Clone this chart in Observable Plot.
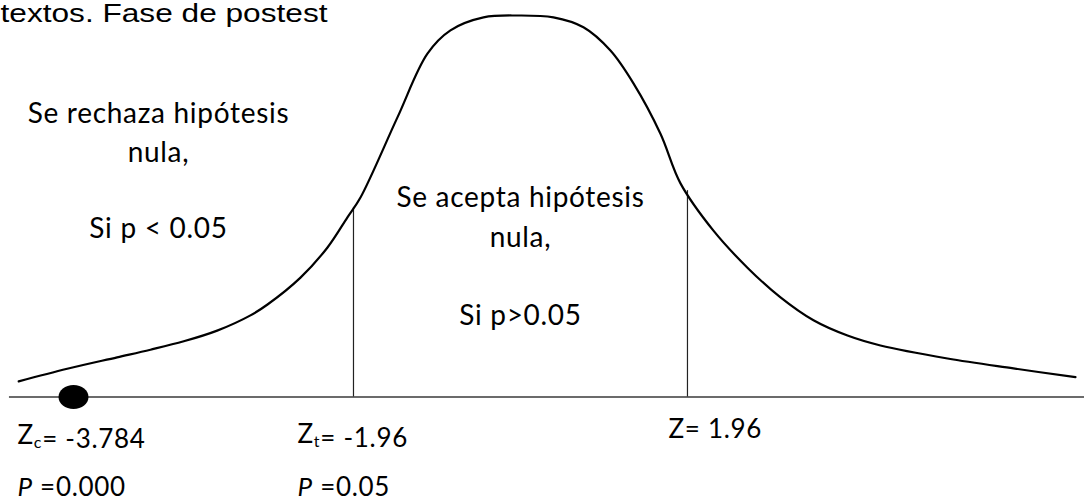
<!DOCTYPE html>
<html>
<head>
<meta charset="utf-8">
<script src="https://cdn.jsdelivr.net/npm/d3@7"></script>
<script src="https://cdn.jsdelivr.net/npm/@observablehq/plot@0.6"></script>
<style>
  html, body { margin: 0; padding: 0; background: #fff; }
  #chart svg { display: block; }
  #chart g[font-family^="Lato"] { letter-spacing: 0.7px; }
</style>
</head>
<body>
<div id="chart"></div>
<script>
// Bell curve outline: z position and relative height (peak = 1)
const curveZ = [-5.889, -5.320, -4.734, -4.343, -3.952, -3.560, -3.169, -2.969, -2.582, -2.265, -2.031, -1.878,
  -1.444, -1.092, -0.822, -0.434, -0.035, 0.387, 0.739, 1.056, 1.326, 1.643, 1.878,
  2.265, 2.664, 3.052, 3.439, 3.838, 4.225, 5.012, 5.786, 6.514];
const curveH = [0.041, 0.074, 0.104, 0.124, 0.146, 0.174, 0.214, 0.2425, 0.313, 0.392, 0.471, 0.523,
  0.733, 0.900, 0.961, 0.995, 1.000, 0.995, 0.969, 0.908, 0.822, 0.690, 0.560,
  0.436, 0.339, 0.261, 0.201, 0.161, 0.135, 0.101, 0.075, 0.052];

// Critical values (vertical lines) and the height at which they meet the curve
const criticalZ = [-1.96, 1.96];
const criticalTop = [0.497, 0.541];

// Horizontal axis extent
const axisFrom = [-5.998];
const axisTo = [6.62];

// Observed statistic marker (drawn position on the schematic)
const markerZ = [-5.246];

// Region texts
const regionText = ["Se rechaza hipótesis", "nula,", "Si p < 0.05",
  "Se acepta hipótesis", "nula,", "Si p>0.05"];
const regionZ = [-4.249, -4.249, -4.249, 0, 0, 0];
const regionH = [0.717, 0.615, 0.418, 0.497, 0.394, 0.190];

// Labels under the axis
const axisLabelText = ["Z_{c}= -3.784", "*P* =0.000", "Z_{t}= -1.96", "*P* =0.05", "Z= 1.96"];
const axisLabelZ = [-5.904, -5.904, -2.617, -2.617, 1.737];
const axisLabelH = [-0.1219, -0.2582, -0.1193, -0.2582, -0.1062];

const titleText = ["textos. Fase de postest"];

const curve = curveZ.map((z, i) => ({z, h: curveH[i]}));
const crit = criticalZ.map((z, i) => ({z, top: criticalTop[i]}));
const regions = regionText.map((t, i) => ({t, z: regionZ[i], h: regionH[i]}));
const axisLabels = axisLabelText.map((t, i) => ({t, z: axisLabelZ[i], h: axisLabelH[i]}));

// ellipse symbol for the marker
const ellipseSymbol = {
  draw(ctx, size) {
    const r = Math.sqrt(size / Math.PI);
    const rx = r * 1.25, ry = r, k = 0.5523;
    ctx.moveTo(rx, 0);
    ctx.bezierCurveTo(rx, ry * k, rx * k, ry, 0, ry);
    ctx.bezierCurveTo(-rx * k, ry, -rx, ry * k, -rx, 0);
    ctx.bezierCurveTo(-rx, -ry * k, -rx * k, -ry, 0, -ry);
    ctx.bezierCurveTo(rx * k, -ry, rx, -ry * k, rx, 0);
    ctx.closePath();
  }
};

const calibriLike = "Lato, 'Open Sans', sans-serif";

const chart = Plot.plot({
  width: 1084,
  height: 502,
  margin: 0,
  x: {domain: [-6.103, 6.620], axis: null},
  y: {domain: [-0.2765, 1.0393], axis: null},
  style: {background: "#fff"},
  marks: [
    Plot.ruleY([0], {x1: axisFrom[0], x2: axisTo[0], stroke: "#3a3a3a", strokeWidth: 1.5}),
    Plot.ruleX(crit, {x: "z", y1: 0, y2: "top", stroke: "#222", strokeWidth: 1.2}),
    Plot.line(curve, {x: "z", y: "h", curve: "catmull-rom", stroke: "#000", strokeWidth: 2.2}),
    Plot.dot(markerZ, {x: d => d, y: 0, r: 12, symbol: ellipseSymbol, fill: "#000", stroke: "none"}),
    Plot.text(regions, {x: "z", y: "h", text: "t", textAnchor: "middle", lineAnchor: "bottom",
      fontSize: 28, fontFamily: calibriLike, fill: "#000"}),
    Plot.text(axisLabels, {x: "z", y: "h", text: "t", textAnchor: "start", lineAnchor: "bottom",
      fontSize: 26, fontFamily: calibriLike, fill: "#000"}),
    Plot.text(titleText, {frameAnchor: "top-left", textAnchor: "start", lineAnchor: "top", dy: 4,
      fontSize: 25, fontFamily: "'Liberation Sans', Arial, sans-serif", fill: "#000"})
  ]
});

// rich text: subscripts and italics; stretch title like the source
chart.querySelectorAll("text, tspan").forEach(el => {
  if (el.children.length) return;
  const s = el.textContent;
  if (s === titleText[0]) {
    el.setAttribute("textLength", 327);
    el.setAttribute("lengthAdjust", "spacingAndGlyphs");
    return;
  }
  if (!/_\{|\*/.test(s)) return;
  const esc = s.replace(/&/g, "&amp;").replace(/</g, "&lt;");
  el.innerHTML = esc
    .replace(/_\{([^}]*)\}/g, '<tspan font-size="16" dy="4">$1</tspan><tspan dy="-4"></tspan>')
    .replace(/\*([^*]*)\*/g, '<tspan font-style="italic">$1</tspan>');
});

document.getElementById("chart").appendChild(chart);
</script>
</body>
</html>
